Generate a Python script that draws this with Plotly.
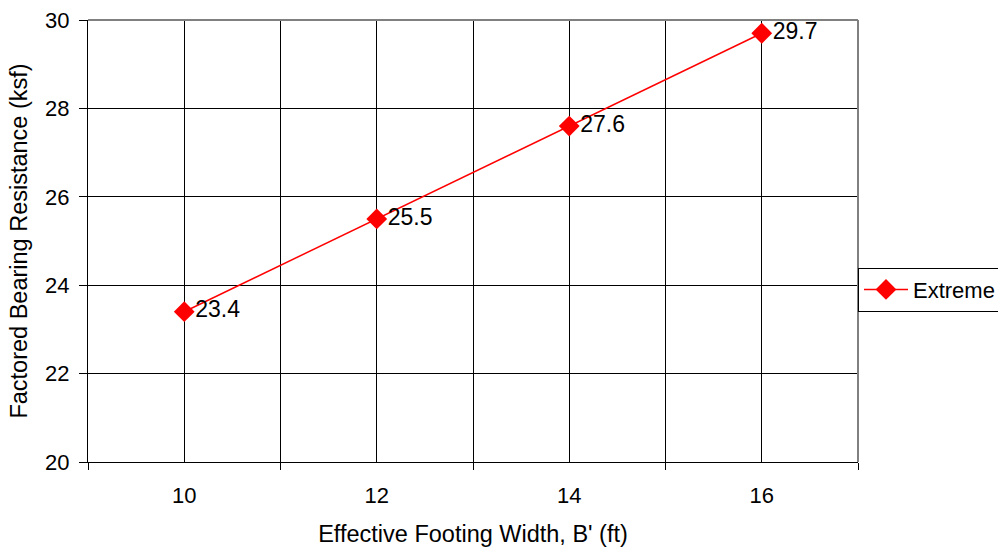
import plotly.graph_objects as go

# Effective footing width (ft) vs factored bearing resistance (ksf)
widths = [10, 12, 14, 16]
resistance = [23.4, 25.5, 27.6, 29.7]
series_name = "Extreme"

x_label_vals = [10, 12, 14, 16]
x_minor_vals = [9, 11, 13, 15, 17]
y_tick_vals = [20, 22, 24, 26, 28, 30]

FONT = "Liberation Sans, Arial, sans-serif"
RED = "#ff0000"

fig = go.Figure()
fig.add_trace(go.Scatter(
    x=widths,
    y=resistance,
    mode="lines+markers+text",
    name=series_name,
    line=dict(color=RED, width=1.5),
    marker=dict(symbol="diamond", size=16, color=RED),
    text=[f"{v:.1f}" for v in resistance],
    textposition="middle right",
    textfont=dict(family=FONT, size=23, color="#000000"),
    cliponaxis=False,
))

fig.update_layout(
    width=998,
    height=550,
    margin=dict(l=88, r=140, t=20, b=88, autoexpand=False),
    paper_bgcolor="white",
    plot_bgcolor="white",
    font=dict(family=FONT, size=22, color="#000000"),
    showlegend=True,
    legend=dict(
        x=1.0, xanchor="left",
        y=0.39, yanchor="middle",
        bordercolor="#000000", borderwidth=1,
        bgcolor="white",
        font=dict(family=FONT, size=22, color="#000000"),
        itemwidth=44,
    ),
    xaxis=dict(
        range=[9, 17],
        automargin=False,
        tickmode="array",
        tickvals=x_label_vals,
        ticks="",
        ticklabelstandoff=14,
        showgrid=True,
        gridcolor="#000000",
        gridwidth=1,
        showline=True,
        linecolor="#000000",
        linewidth=1,
        zeroline=False,
        minor=dict(
            tickmode="array",
            tickvals=x_minor_vals,
            ticks="outside",
            ticklen=7,
            tickcolor="#000000",
            showgrid=True,
            gridcolor="#000000",
            gridwidth=1,
        ),
        title=dict(text="Effective Footing Width, B' (ft)", standoff=18,
                   font=dict(family=FONT, size=23.5)),
        tickfont=dict(family=FONT, size=22),
    ),
    yaxis=dict(
        range=[20, 30],
        automargin=False,
        tickmode="array",
        tickvals=y_tick_vals,
        ticks="outside",
        ticklen=8,
        tickcolor="#000000",
        ticklabelstandoff=5,
        showgrid=True,
        gridcolor="#000000",
        gridwidth=1,
        showline=True,
        linecolor="#000000",
        linewidth=1,
        zeroline=False,
        title=dict(text="Factored Bearing Resistance (ksf)", standoff=10,
                   font=dict(family=FONT, size=23.5)),
        tickfont=dict(family=FONT, size=22),
    ),
)

# Gray frame on the top and right edges of the plot area
fig.add_shape(type="line", xref="x domain", yref="y domain",
              x0=0, x1=1, y0=1, y1=1, line=dict(color="#808080", width=2))
fig.add_shape(type="line", xref="x domain", yref="y domain",
              x0=1, x1=1, y0=0, y1=1, line=dict(color="#808080", width=2))

fig.write_html("out.html")
